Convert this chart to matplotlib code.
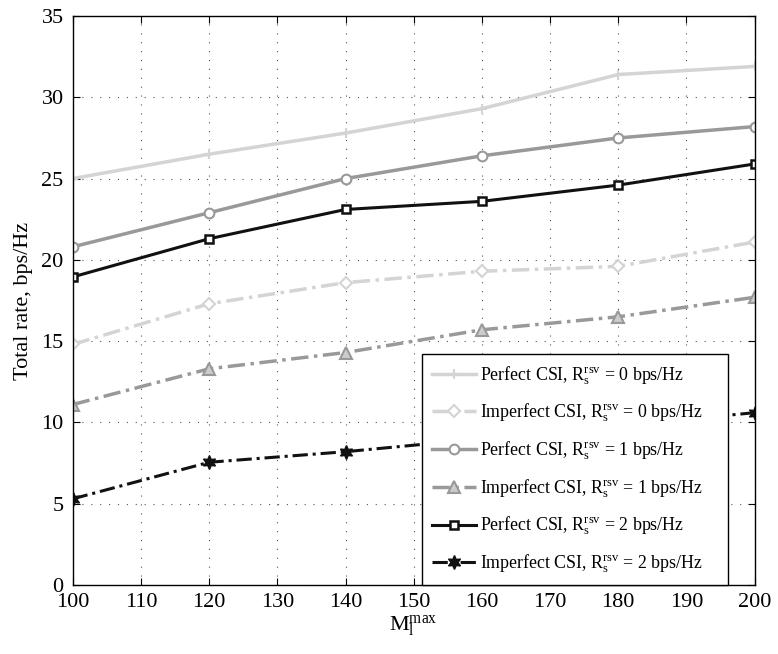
import numpy as np
import matplotlib
matplotlib.use("Agg")
from matplotlib import pyplot as plt

plt.rcParams['font.family'] = ['Liberation Serif', 'DejaVu Serif']
plt.rcParams['mathtext.fontset'] = 'custom'
plt.rcParams['mathtext.rm'] = 'Liberation Serif'
plt.rcParams['mathtext.it'] = 'Liberation Serif:italic'

m_max = [100, 120, 140, 160, 180, 200]
perfect_0 = [25.0, 26.5, 27.8, 29.3, 31.4, 31.9]
imperfect_0 = [14.8, 17.3, 18.6, 19.3, 19.6, 21.1]
perfect_1 = [20.8, 22.9, 25.0, 26.4, 27.5, 28.2]
imperfect_1 = [11.1, 13.3, 14.3, 15.7, 16.5, 17.7]
perfect_2 = [18.95, 21.3, 23.1, 23.6, 24.6, 25.9]
imperfect_2 = [5.3, 7.55, 8.2, 9.0, 9.8, 10.6]

def lab(kind, r):
    return kind + r' CSI, $\mathregular{R_s^{rsv}}$ = ' + str(r) + ' bps/Hz'

light = '#d4d4d4'
mid = '#999999'
dark = '#111111'
dd = (5, 1.6, 1, 1.6)

fig = plt.figure(figsize=(7.78, 6.54), dpi=100)
ax = fig.add_axes([0.0935, 0.1055, 0.8765, 0.870])

ax.plot(m_max, perfect_0, color=light, lw=2.5, marker='+', ms=7, mew=1.5,
        label=lab('Perfect', 0))
ax.plot(m_max, imperfect_0, color=light, lw=2.5, dashes=dd, marker='D', ms=6.5,
        mfc='white', mew=1.5, label=lab('Imperfect', 0))
ax.plot(m_max, perfect_1, color=mid, lw=2.5, marker='o', ms=7,
        mfc='white', mew=1.5, label=lab('Perfect', 1))
ax.plot(m_max, imperfect_1, color=mid, lw=2.5, dashes=dd, marker='^', ms=8,
        mfc='#cccccc', mew=1.5, label=lab('Imperfect', 1))
ax.plot(m_max, perfect_2, color=dark, lw=2.2, marker='s', ms=6,
        mfc='white', mew=1.8, label=lab('Perfect', 2))
ax.plot(m_max, imperfect_2, color=dark, lw=2.2, dashes=dd, marker=(6, 1, 0), ms=10,
        mfc=dark, label=lab('Imperfect', 2))

ax.set_xlim(100, 200)
ax.set_ylim(0, 35)
ax.set_xticks(np.arange(100, 201, 10))
ax.set_yticks(np.arange(0, 36, 5))
ax.grid(True, linestyle=(0, (1, 7)), color='#555555', lw=0.8)
ax.tick_params(direction='in', top=True, right=True, labelsize=16, length=5)
ax.tick_params(axis='y', pad=6.5)
ax.tick_params(axis='x', pad=5.5)
for s in ax.spines.values():
    s.set_linewidth(1.0)

ax.set_xlabel(r'$\mathregular{M_l^{max}}$', fontsize=16, labelpad=1)
ax.set_ylabel('Total rate, bps/Hz', fontsize=16, labelpad=6)

leg = ax.legend(loc='lower left', bbox_to_anchor=(0.512, 0.0, 0.4484, 0.4), mode='expand',
                fontsize=12.9, frameon=True, fancybox=False, edgecolor='black', framealpha=1,
                handlelength=2.45, numpoints=1, labelspacing=0.85, borderaxespad=0,
                borderpad=0.55, handletextpad=0.25)
leg.get_frame().set_linewidth(1.0)

fig.savefig("out.png", dpi=100)
